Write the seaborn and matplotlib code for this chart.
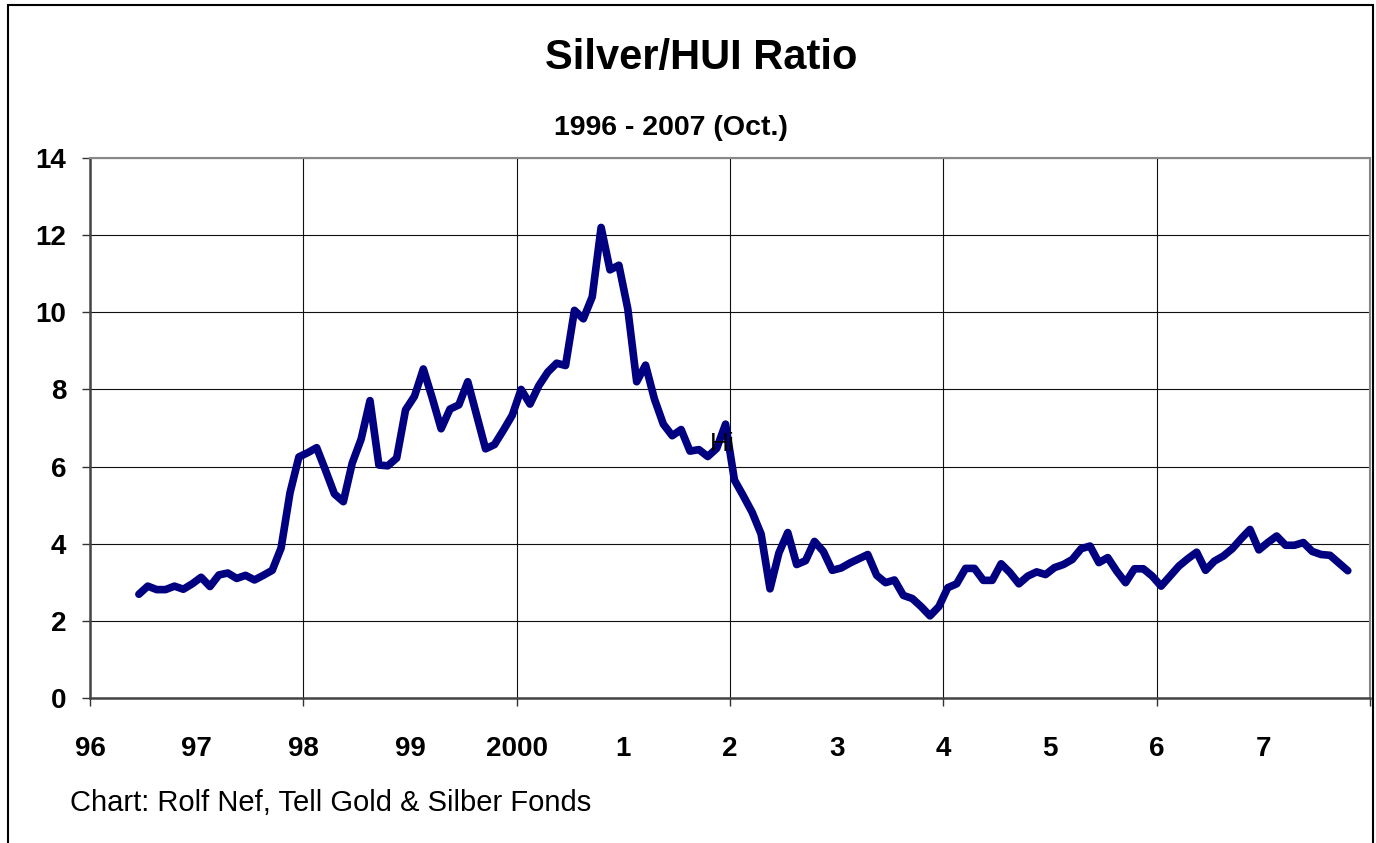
import numpy as np
import pandas as pd
import matplotlib.pyplot as plt
import seaborn as sns

# Monthly Silver/HUI ratio, Jun 1996 .. Oct 2007
r1996 = [2.69, 2.90, 2.81, 2.81, 2.90, 2.82, 2.96]  # Jun-Dec
r1997 = [3.13, 2.89, 3.19, 3.24, 3.10, 3.18, 3.06, 3.18, 3.31, 3.89, 5.32, 6.25]
r1998 = [6.36, 6.49, 5.90, 5.29, 5.09, 6.09, 6.71, 7.71, 6.04, 6.02, 6.22, 7.47]
r1999 = [7.82, 8.53, 7.78, 6.98, 7.49, 7.60, 8.20, 7.33, 6.46, 6.57, 6.94, 7.33]
r2000 = [8.00, 7.62, 8.10, 8.45, 8.68, 8.62, 10.05, 9.83, 10.40, 12.20, 11.10, 11.22]
r2001 = [10.09, 8.20, 8.63, 7.75, 7.10, 6.80, 6.96, 6.40, 6.44, 6.26, 6.47, 7.10]
r2002 = [5.65, 5.24, 4.81, 4.25, 2.83, 3.76, 4.29, 3.46, 3.56, 4.06, 3.80, 3.31]
r2003 = [3.37, 3.50, 3.61, 3.72, 3.18, 2.99, 3.06, 2.66, 2.58, 2.37, 2.13, 2.37]
r2004 = [2.86, 2.96, 3.36, 3.36, 3.05, 3.05, 3.48, 3.25, 2.96, 3.16, 3.27, 3.20]
r2005 = [3.38, 3.46, 3.59, 3.87, 3.94, 3.51, 3.64, 3.29, 2.99, 3.35, 3.35, 3.16]
r2006 = [2.90, 3.16, 3.42, 3.61, 3.78, 3.31, 3.55, 3.68, 3.87, 4.13, 4.37, 3.84]
r2007 = [4.03, 4.20, 3.96, 3.96, 4.03, 3.80, 3.72, 3.70, 3.50, 3.30]  # Jan-Oct

year_labels = ['96', '97', '98', '99', '2000', '1', '2', '3', '4', '5', '6', '7']

ratio = r1996 + r1997 + r1998 + r1999 + r2000 + r2001 + r2002 + r2003 + r2004 + r2005 + r2006 + r2007
months = pd.period_range('1996-06', '2007-10', freq='M')
df = pd.DataFrame({'t': months.year + (months.month - 0.5) / 12, 'ratio': ratio})

sns.set_style("white")
plt.rcParams['font.family'] = ['Liberation Sans', 'DejaVu Sans']
plt.rcParams['text.color'] = 'black'
plt.rcParams['xtick.color'] = 'black'
plt.rcParams['ytick.color'] = 'black'

fig = plt.figure(figsize=(13.76, 8.43), dpi=100)
ax = fig.add_axes([90 / 1376, 1 - 698 / 843, 1280 / 1376, 540 / 843])

sns.lineplot(data=df, x='t', y='ratio', ax=ax, color='#000080', linewidth=5.5,
             solid_joinstyle='round', solid_capstyle='round', zorder=3)

ax.set_xlim(1996, 2008)
ax.set_ylim(0, 14)
ax.xaxis.remove_overlapping_locs = False
ax.set_xticks(np.arange(1996, 2009, 2))
ax.set_xticklabels([])
ax.set_xticks(np.arange(1996, 2008), minor=True)
ax.set_xticklabels(year_labels, minor=True, fontsize=20, fontweight='bold')
ax.set_yticks(np.arange(0, 15, 2))
ax.set_yticklabels([str(v) for v in range(0, 15, 2)], fontsize=20, fontweight='bold')
ax.tick_params(axis='x', which='major', direction='out', length=6, width=1, color='#333333', bottom=True)
ax.tick_params(axis='x', which='minor', length=0, pad=27, bottom=True)
ax.tick_params(axis='y', which='major', direction='out', length=6, width=1, color='#333333', left=True, pad=11)
ax.set_xlabel('')
ax.set_ylabel('')

ax.grid(True, which='major', color='#111111', linewidth=0.8)
for side in ['top', 'right']:
    ax.spines[side].set_color('#888888')
    ax.spines[side].set_linewidth(1.5)
for side in ['left', 'bottom']:
    ax.spines[side].set_color('#444444')
    ax.spines[side].set_linewidth(1.8)

ax.text(2001.81, 6.59, 'Hi', fontsize=19, color='black', va='center', ha='left', zorder=4)

fig.text(701 / 1376, 1 - 58 / 843, 'Silver/HUI Ratio', fontsize=30, fontweight='bold',
         ha='center', va='center')
fig.text(671 / 1376, 1 - 128 / 843, '1996 - 2007 (Oct.)', fontsize=20.5, fontweight='bold',
         ha='center', va='center')
fig.text(70 / 1376, 1 - 803 / 843, 'Chart: Rolf Nef, Tell Gold & Silber Fonds', fontsize=21,
         ha='left', va='center')

# outer chart frame (bottom edge runs off the image)
fig.add_artist(plt.Rectangle((8 / 1376, -0.02), 1365 / 1376, 1 - 5 / 843 + 0.02,
                             transform=fig.transFigure, fill=False, lw=1.5, ec='black'))

fig.savefig('out.png', dpi=100)
